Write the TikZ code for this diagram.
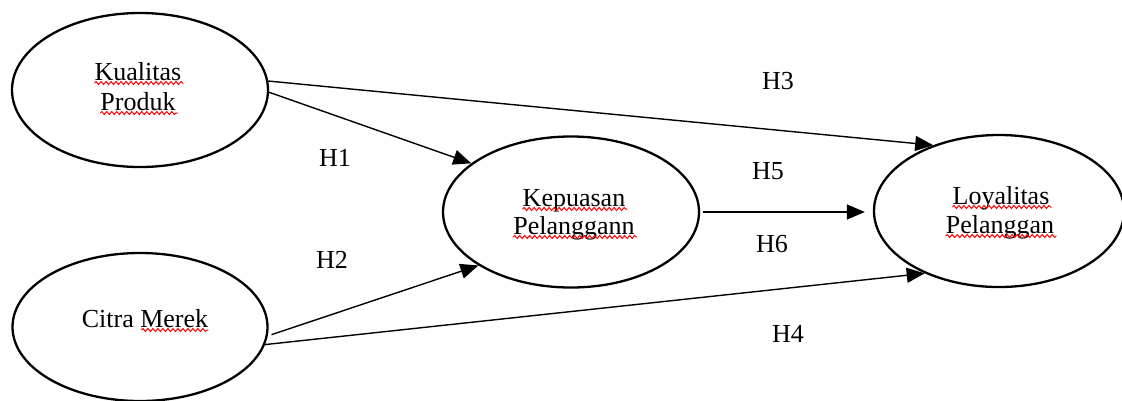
\documentclass[tikz,border=0pt]{standalone}
\usepackage{fontspec}
\setmainfont{Liberation Serif}
\usetikzlibrary{shapes.geometric,arrows.meta,decorations.pathmorphing,calc}
\begin{document}
\begin{tikzpicture}[x=1pt,y=-1pt,
  ell/.style={draw, ellipse, line width=2.3pt, inner sep=0pt},
  word/.style={font=\fontsize{26}{30}\selectfont, inner sep=0pt, anchor=base},
  hl/.style={font=\fontsize{26}{30}\selectfont, inner sep=0pt},
  arr/.style={-{Triangle[length=18pt,width=15pt]}, line width=1.4pt},
  squig/.style={red, line width=1pt, decorate, decoration={snake, amplitude=1.5pt, segment length=5pt}}]
\useasboundingbox[fill=white] (0,0) rectangle (1122,400);
% ellipses
\node[ell, minimum width=256pt, minimum height=154pt] (kp) at (140,90) {};
\node[ell, minimum width=255pt, minimum height=148pt] (cm) at (140,327) {};
\node[ell, minimum width=256pt, minimum height=151pt] (ks) at (571,212) {};
\node[ell, minimum width=250pt, minimum height=152pt] (ly) at (999,211) {};
% texts
\node[word] (k1) at (138,80) {Kualitas};
\node[word] (k2) at (138,110) {Produk};
\node[word] (c1) at (145,327) {Citra Merek};
\node[word] (s1) at (574,206) {Kepuasan};
\node[word] (s2) at (574,234) {Pelanggann};
\node[word] (l1) at (1001,204) {Loyalitas};
\node[word] (l2) at (1000,233) {Pelanggan};
% spell-check squiggles
\draw[squig] ($(k1.base west)+(0,3)$) -- ($(k1.base east)+(2,3)$);
\draw[squig] ($(k2.base west)+(0,3)$) -- ($(k2.base east)+(2,3)$);
\draw[squig] ($(c1.base east)+(-67,3)$) -- ($(c1.base east)+(0,3)$);
\draw[squig] ($(s1.base west)+(0,3)$) -- ($(s1.base east)+(2,3)$);
\draw[squig] ($(s2.base west)+(0,3)$) -- ($(s2.base east)+(2,3)$);
\draw[squig] ($(l1.base west)+(0,3)$) -- ($(l1.base east)+(2,3)$);
\draw[squig] ($(l2.base west)+(0,3)$) -- ($(l2.base east)+(2,3)$);
% connectors
\draw[arr] (kp.-1) -- (ks.154);
\draw[arr] (kp.4) -- (ly.135);
\draw[arr, shorten <=4pt] (cm.-4) -- (ks.210);
\draw[arr] (cm.-8) -- (ly.220);
\draw[arr, shorten <=3pt, shorten >=8pt] (ks.east) -- (ks.east -| ly.west);
% labels
\node[hl] (h1) at (335,158) {H1};
\node[hl] (h2) at (332,260) {H2};
\node[hl] (h3) at (778,81) {H3};
\node[hl] (h5) at (768,171) {H5};
\node[hl] (h6) at (772,244) {H6};
\node[hl] (h4) at (788,334) {H4};
\end{tikzpicture}
\end{document}
